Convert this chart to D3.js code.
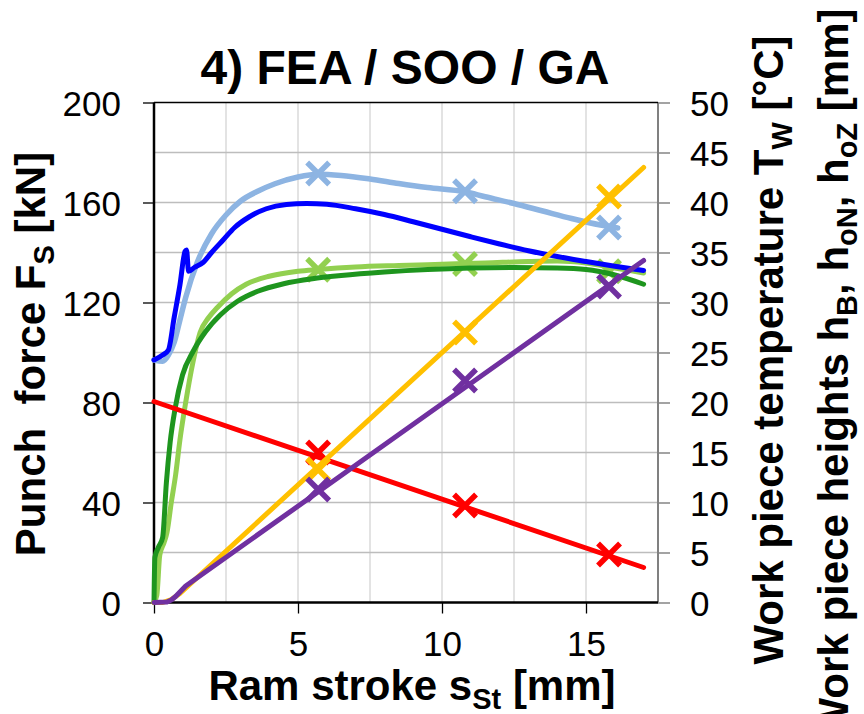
<!DOCTYPE html>
<html>
<head>
<meta charset="utf-8">
<script src="https://cdn.jsdelivr.net/npm/d3@7"></script>
<style>
    body { margin: 0; background: #fff; }
    svg text { font-family: "Liberation Sans", Arial, Helvetica, sans-serif; fill: #000; white-space: pre; }
</style>
</head>
<body>
<div class="svg"></div>
<script>
// x ticks / y ticks
var xTicks = [0, 5, 10, 15];
var xGrid = [2.5, 5, 7.5, 10, 12.5, 15];
var leftTicks = [0, 40, 80, 120, 160, 200];
var rightTicks = [0, 5, 10, 15, 20, 25, 30, 35, 40, 45, 50];

// marker positions (ram stroke, mm)
var markStroke = [5.7, 10.8, 15.8];

// punch force series [stroke mm, kN]
var lightBlueLine = [[0, 97], [0.3, 96.5], [0.5, 99], [0.7, 104], [0.9, 113], [1.1, 122], [1.5, 136], [2.0, 147.5],
    [2.5, 155], [3.0, 160.5], [3.6, 164.5], [4.2, 167.5], [5.0, 170.2], [5.7, 171.3], [6.5, 170.8], [7.5, 169.4],
    [8.5, 167.6], [9.5, 166], [10.8, 164.3], [11.5, 162.3], [12.5, 159.6], [13.5, 156.6], [14.5, 153.6], [15.5, 151],
    [16.1, 149.8]];
var lightBlueMarks = [171.6, 164.5, 150];

var blueLine = [[0, 97], [0.3, 99], [0.5, 101], [0.7, 114], [0.9, 127], [1.08, 140.5], [1.13, 141], [1.2, 132.5],
    [1.4, 134], [1.7, 136], [2.0, 140], [2.4, 145], [2.8, 150], [3.3, 154.2], [3.9, 157.5], [4.6, 159.2], [5.3, 159.6],
    [6.0, 159.3], [7.0, 157.5], [8.0, 155.2], [9.0, 152.3], [10.0, 149.3], [11.0, 146.3], [12.0, 143.4], [13.0, 140.7],
    [14.0, 138.4], [15.0, 136.4], [16.0, 134.5], [17.0, 132.8]];

var lightGreenLine = [[0, 0], [0.1, 3], [0.2, 19], [0.35, 24], [0.45, 28], [0.6, 40], [0.75, 51], [0.9, 65],
    [1.1, 80], [1.35, 96], [1.6, 108], [1.9, 114], [2.2, 118], [2.7, 123.5], [3.2, 127.3], [4.0, 130.5], [5.0, 132.5],
    [5.7, 133.2], [7.0, 134.2], [8.5, 134.8], [10.0, 135.3], [11.5, 135.8], [13.0, 136.4], [14.0, 136.6], [15.0, 135.8],
    [16.0, 133.8], [17.0, 131.8]];
var lightGreenMarks = [133.1, 135.4, 132.5];

var darkGreenLine = [[0, 0], [0.03, 18], [0.15, 22], [0.3, 26], [0.43, 48], [0.56, 64], [0.74, 78], [0.99, 91],
    [1.36, 100.5], [1.8, 108.5], [2.3, 115], [2.9, 120.5], [3.6, 124.5], [4.5, 127.5], [5.5, 129.5], [6.5, 130.8],
    [8.0, 132.2], [9.5, 133.2], [11.0, 133.8], [12.5, 134], [14.0, 133.8], [15.0, 133.2], [16.0, 131], [17.0, 127.3]];

// temperature / heights series [stroke mm, right axis value]
var redLine = [[0, 20.1], [17.0, 3.5]];
var redMarks = [15.0, 9.7, 4.8];

var yellowLine = [[0, 0], [0.3, 0], [0.6, 0.3], [0.9, 0.9], [1.2, 1.7], [17.0, 43.5]];
var yellowMarks = [13.3, 27.0, 40.6];

var purpleLine = [[0, 0], [0.45, 0.05], [0.6, 0.25], [0.75, 0.6], [0.9, 1.05], [1.1, 1.65], [17.0, 34.2]];
var purpleMarks = [11.3, 22.2, 31.6];

var width, height, margin;
var x, yLeft, yRight, svg;

var setupConfig = function () {
    width = 864;
    height = 714;
    margin = {left: 154, right: 658, top: 102.5, bottom: 602.5};
};

var setupScales = function () {
    x = d3.scaleLinear().domain([0, 17.5]).range([margin.left, margin.right]);
    yLeft = d3.scaleLinear().domain([0, 200]).range([margin.bottom, margin.top]);
    yRight = d3.scaleLinear().domain([0, 50]).range([margin.bottom, margin.top]);
};

var setupSVG = function () {
    svg = d3.select("div.svg")
        .append("svg")
        .attr("width", width)
        .attr("height", height);
    svg.append("rect").attr("width", width).attr("height", height).attr("fill", "#fff");
};

var drawGrid = function () {
    svg.append("g").selectAll("line")
        .data(xGrid)
        .enter().append("line")
        .attr("x1", function (d) { return x(d); })
        .attr("x2", function (d) { return x(d); })
        .attr("y1", margin.top)
        .attr("y2", margin.bottom)
        .style("stroke", "#d0d0d0")
        .style("stroke-width", 1.2);
    svg.append("g").selectAll("line")
        .data(d3.range(20, 200, 20))
        .enter().append("line")
        .attr("x1", margin.left)
        .attr("x2", margin.right)
        .attr("y1", function (d) { return yLeft(d); })
        .attr("y2", function (d) { return yLeft(d); })
        .style("stroke", "#bdbdbd")
        .style("stroke-width", 1.6);
};

var drawAxes = function () {
    // left axis
    var left = svg.append("g")
        .attr("transform", "translate(" + margin.left + ",0)")
        .call(d3.axisLeft(yLeft).tickValues(leftTicks).tickSize(11).tickPadding(22));
    left.select(".domain").remove();
    left.selectAll(".tick line").style("stroke", "#000").style("stroke-width", 1.3);
    left.selectAll(".tick text").style("font-size", "35px").attr("dy", "0.36em");

    // right axis
    var right = svg.append("g")
        .attr("transform", "translate(" + margin.right + ",0)")
        .call(d3.axisRight(yRight).tickValues(rightTicks).tickSize(12).tickPadding(20));
    right.select(".domain").remove();
    right.selectAll(".tick line").style("stroke", "#8c8c8c").style("stroke-width", 1.6);
    right.selectAll(".tick text").style("font-size", "35px").attr("dy", "0.36em");

    // bottom axis
    var bottom = svg.append("g")
        .attr("transform", "translate(0," + margin.bottom + ")")
        .call(d3.axisBottom(x).tickValues(xTicks).tickSize(11).tickPadding(18));
    bottom.select(".domain").remove();
    bottom.selectAll(".tick line").style("stroke", "#000").style("stroke-width", 1.3);
    bottom.selectAll(".tick text").style("font-size", "35px").attr("dy", "0.71em");

    // frame
    svg.append("line").attr("x1", margin.right).attr("x2", margin.right)
        .attr("y1", margin.top).attr("y2", margin.bottom)
        .style("stroke", "#808080").style("stroke-width", 2);
    svg.append("line").attr("x1", margin.left).attr("x2", margin.right)
        .attr("y1", margin.top).attr("y2", margin.top)
        .style("stroke", "#000").style("stroke-width", 1.5);
    svg.append("line").attr("x1", margin.left).attr("x2", margin.left)
        .attr("y1", margin.top).attr("y2", margin.bottom + 1)
        .style("stroke", "#000").style("stroke-width", 2.5);
    svg.append("line").attr("x1", margin.left - 1).attr("x2", margin.right)
        .attr("y1", margin.bottom).attr("y2", margin.bottom)
        .style("stroke", "#000").style("stroke-width", 2.5);
};

var drawSeries = function (points, yScale, color, marks, lw, curve) {
    var line = d3.line()
        .x(function (d) { return x(d[0]); })
        .y(function (d) { return yScale(d[1]); })
        .curve(curve || d3.curveMonotoneX);
    svg.append("path")
        .datum(points)
        .attr("d", line)
        .style("fill", "none")
        .style("stroke", color)
        .style("stroke-width", lw || 5)
        .style("stroke-linejoin", "round")
        .style("stroke-linecap", "round");
    if (!marks) return;
    var s = 11;
    svg.append("g").selectAll("path")
        .data(marks)
        .enter().append("path")
        .attr("d", function (d, i) {
            var cx = x(markStroke[i]), cy = yScale(d);
            return "M" + (cx - s) + "," + (cy - s) + "L" + (cx + s) + "," + (cy + s) +
                "M" + (cx - s) + "," + (cy + s) + "L" + (cx + s) + "," + (cy - s);
        })
        .style("fill", "none")
        .style("stroke", color)
        .style("stroke-width", 5.5);
};

var drawTexts = function () {
    svg.append("text")
        .attr("x", 405).attr("y", 84)
        .attr("text-anchor", "middle")
        .style("font-size", "48px").style("font-weight", "bold")
        .text("4) FEA / SOO / GA");

    var xt = svg.append("text")
        .attr("x", 412).attr("y", 700)
        .attr("text-anchor", "middle")
        .style("font-size", "42px").style("font-weight", "bold");
    xt.append("tspan").text("Ram stroke s");
    xt.append("tspan").attr("dy", 9).style("font-size", "29px").text("St");
    xt.append("tspan").attr("dy", -9).text(" [mm]");

    var yt = svg.append("text")
        .attr("transform", "translate(45,354) rotate(-90)")
        .attr("text-anchor", "middle")
        .style("font-size", "42px").style("font-weight", "bold");
    yt.append("tspan").text("Punch  force F");
    yt.append("tspan").attr("dy", 9).style("font-size", "29px").text("S");
    yt.append("tspan").attr("dy", -9).text(" [kN]");

    var r1 = svg.append("text")
        .attr("transform", "translate(783,350) rotate(-90)")
        .attr("text-anchor", "middle")
        .style("font-size", "42px").style("font-weight", "bold");
    r1.append("tspan").text("Work piece temperature T");
    r1.append("tspan").attr("dy", 9).style("font-size", "29px").text("W");
    r1.append("tspan").attr("dy", -9).text(" [°C]");

    var r2 = svg.append("text")
        .attr("transform", "translate(848,373) rotate(-90)")
        .attr("text-anchor", "middle")
        .style("font-size", "42px").style("font-weight", "bold");
    r2.append("tspan").text("Work piece heights h");
    r2.append("tspan").attr("dy", 9).style("font-size", "29px").text("B");
    r2.append("tspan").attr("dy", -9).text(", h");
    r2.append("tspan").attr("dy", 9).style("font-size", "29px").text("oN");
    r2.append("tspan").attr("dy", -9).text(", h");
    r2.append("tspan").attr("dy", 9).style("font-size", "29px").text("oZ");
    r2.append("tspan").attr("dy", -9).text(" [mm]");
};

setupConfig();
setupScales();
setupSVG();
drawGrid();
drawAxes();
drawSeries(lightBlueLine, yLeft, "#8db4e2", lightBlueMarks, 5.5);
drawSeries(lightGreenLine, yLeft, "#92d050", lightGreenMarks);
drawSeries(blueLine, yLeft, "#0000ff", null);
drawSeries(darkGreenLine, yLeft, "#1e951e", null);
drawSeries(redLine, yRight, "#ff0000", redMarks, 5, d3.curveLinear);
drawSeries(yellowLine, yRight, "#ffc000", yellowMarks, 5, d3.curveLinear);
drawSeries(purpleLine, yRight, "#7030a0", purpleMarks, 5, d3.curveLinear);
drawTexts();
</script>
</body>
</html>
